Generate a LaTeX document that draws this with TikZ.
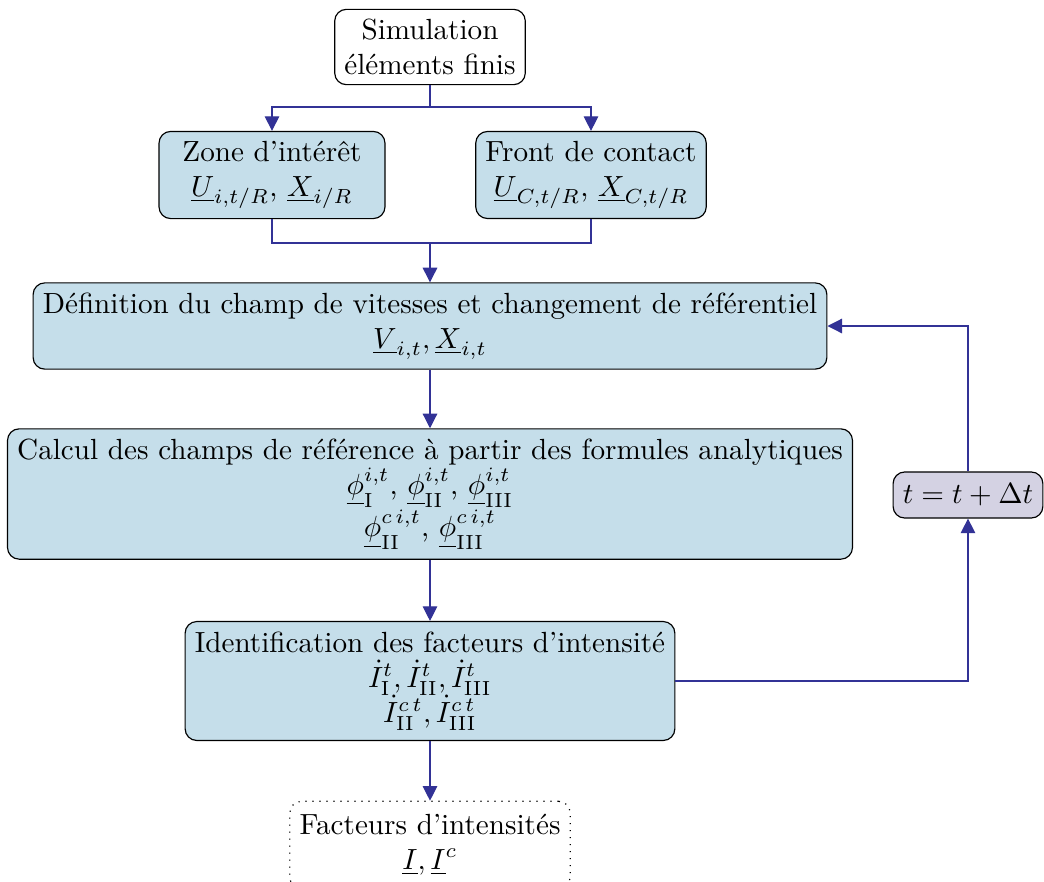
\documentclass[tikz,border=0pt]{standalone}
\usetikzlibrary{positioning,arrows.meta,calc}
\definecolor{BoxBlue}{RGB}{197,222,234}
\definecolor{StepLilac}{RGB}{212,210,227}
\definecolor{FlowBlue}{RGB}{50,50,150}

\begin{document}
\begin{tikzpicture}[x=0.343pt,y=-0.343pt, every node/.style={align=center},
  stage/.style={draw, rounded corners=4pt, fill=BoxBlue},
  flow/.style={FlowBlue, line width=0.4pt},
  flowarrow/.style={flow, -{Triangle[length=5pt,width=5pt]}}]
  \useasboundingbox (0,0) rectangle (1044,882);

  \node[draw, rounded corners=4pt, fill=white, minimum width=65pt, minimum height=25.7pt] (sim) at (430,47) {Simulation\\éléments finis};
  \node[stage, minimum width=77.5pt, minimum height=29pt] (zone) at (272,175) {Zone d'intérêt\\$\underline{U}_{i,t/R}$, $\underline{X}_{i/R}$};
  \node[stage, minimum width=78.9pt, minimum height=29pt] (front) at (591,175) {Front de contact\\$\underline{U}_{C,t/R}$, $\underline{X}_{C,t/R}$};
  \node[stage, minimum width=272pt, minimum height=29.5pt] (defn) at (430,326) {Définition du champ de vitesses et changement de référentiel\\$\underline{V}_{i,t},\underline{X}_{i,t}$};
  \node[stage, minimum height=43.6pt] (calc) at (430,494) {Calcul des champs de référence à partir des formules analytiques\\
    $\underline{\phi}^{i,t}_{\mathrm{I}}$, $\underline{\phi}^{i,t}_{\mathrm{II}}$, $\underline{\phi}^{i,t}_{\mathrm{III}}$\\
    $\underline{\phi}^{c\,i,t}_{\mathrm{II}}$, $\underline{\phi}^{c\,i,t}_{\mathrm{III}}$};
  \node[stage, minimum height=40.8pt] (ident) at (430,681) {Identification des facteurs d'intensité\\
    $\dot{I}^{t}_{\mathrm{I}},\dot{I}^{t}_{\mathrm{II}},\dot{I}^{t}_{\mathrm{III}}$\\
    $\dot{I}^{c\,t}_{\mathrm{II}},\dot{I}^{c\,t}_{\mathrm{III}}$};
  \node[draw, dotted, rounded corners=4pt, fill=white, minimum width=96pt, minimum height=30pt] (result) at (430,845) {Facteurs d'intensités\\$\underline{I},\underline{I}^{c}$};
  \node[draw, rounded corners=4pt, fill=StepLilac, minimum width=49pt, minimum height=15.8pt] (tstep) at (968,495) {$t=t+\Delta t$};

  % split and merge
  \coordinate (split) at (430,107);
  \coordinate (merge) at (430,243);
  \draw[flow] (sim.south) -- (split);
  \draw[flowarrow] (split) -| (zone.north);
  \draw[flowarrow] (split) -| (front.north);
  \draw[flow] (zone.south) |- (merge) -| (front.south);
  \draw[flowarrow] (merge) -- (defn.north);

  % main chain
  \draw[flowarrow] (defn) -- (calc);
  \draw[flowarrow] (calc) -- (ident);
  \draw[flowarrow] (ident) -- (result);

  % time loop
  \draw[flowarrow] (ident.east) -| (tstep.south);
  \draw[flowarrow] (tstep.north) |- (defn.east);
\end{tikzpicture}
\end{document}
